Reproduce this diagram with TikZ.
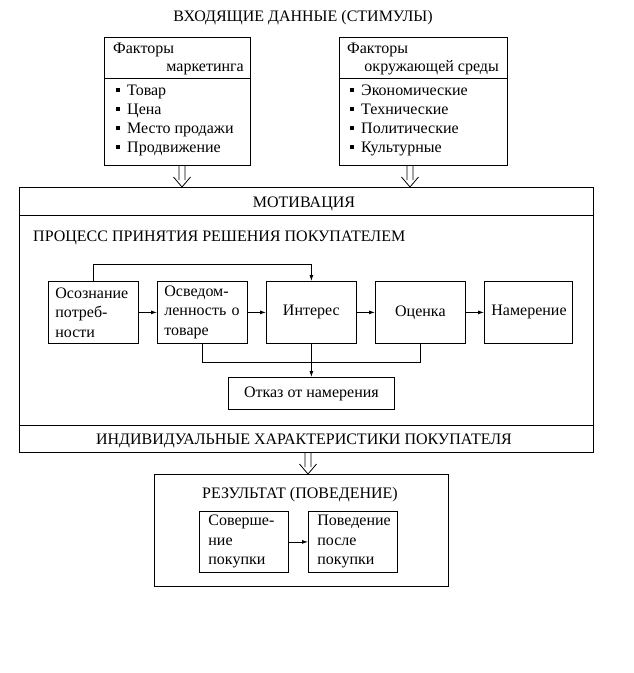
\documentclass[tikz,border=0pt]{standalone}
\usepackage{fontspec}
\setmainfont{Liberation Serif}
\usetikzlibrary{calc,arrows.meta}
\tikzset{
  bx/.style={draw, line width=0.8pt, inner sep=0pt, anchor=north west},
  arr/.style={-{Latex[length=6pt,width=4pt]}, line width=0.8pt},
  ln/.style={line width=0.8pt},
  txt/.style={inner sep=0pt},
  pbox/.style={bx, text width=76pt, inner xsep=7pt, minimum height=62pt},
  rbox/.style={bx, text width=71pt, inner xsep=9pt, minimum height=61pt, align=left},
}
\newcommand{\blt}{\rule[3pt]{4pt}{4pt}\hspace{7pt}}
\newcommand{\dblarr}[3]{\draw[ln] (#1-3,#2) -- (#1-3,#3-7) (#1+3,#2) -- (#1+3,#3-7) (#1-8.5,#3-10) -- (#1,#3) -- (#1+8.5,#3-10);}
\begin{document}
\begin{tikzpicture}[x=1pt,y=-1pt,font=\fontsize{16}{19.5}\selectfont]
\useasboundingbox (0,0) rectangle (634,673);
\fill[white] (0,0) rectangle (634,673);

\node[txt,anchor=base] (title) at (303,21.5) {ВХОДЯЩИЕ ДАННЫЕ (СТИМУЛЫ)};

% marketing factors
\node[bx, minimum width=146pt, minimum height=41pt] (mh) at (104,37) {};
\node[bx, minimum width=146pt, minimum height=87pt] (ml) at (104,78) {};
\node[txt,anchor=base west] (mf) at (113,53) {Факторы};
\node[txt,anchor=base east] (mm) at (244,71.5) {маркетинга};
\foreach \t [count=\i] in {Товар,Цена,Место продажи,Продвижение}
  \node[txt,anchor=base west] (mi\i) at (116,76+19*\i) {\blt\t};

% environment factors
\node[bx, minimum width=168pt, minimum height=41pt] (eh) at (339,37) {};
\node[bx, minimum width=168pt, minimum height=87pt] (el) at (339,78) {};
\node[txt,anchor=base west] (ef) at (347,53) {Факторы};
\node[txt,anchor=base east] (em) at (499,71.5) {окружающей среды};
\foreach \t [count=\i] in {Экономические,Технические,Политические,Культурные}
  \node[txt,anchor=base west] (ei\i) at (350,76+19*\i) {\blt\t};

\dblarr{182}{165}{187}
\dblarr{410}{165}{187}

% big box
\node[bx, minimum width=574pt, minimum height=265pt] (big) at (19,187) {};
\draw[ln] ($(big.north west)+(0,28)$) -- ($(big.north east)+(0,28)$);
\draw[ln] ($(big.south west)+(0,-27)$) -- ($(big.south east)+(0,-27)$);
\node[txt,anchor=base] (mot) at (304,207.5) {МОТИВАЦИЯ};
\node[txt,anchor=base west] (proc) at (33,241.5) {ПРОЦЕСС ПРИНЯТИЯ РЕШЕНИЯ ПОКУПАТЕЛЕМ};
\node[txt,anchor=base] (ind) at (304,444.5) {ИНДИВИДУАЛЬНЫЕ ХАРАКТЕРИСТИКИ ПОКУПАТЕЛЯ};

% process boxes
\node[pbox, align=left] (b1) at (48,281) {Осознание\\потреб-\\ности};
\node[pbox, align=left] (b2) at (157,281) {Осведом-\\ленность о\\товаре};
\node[pbox, align=center] (b3) at (266,281) {Интерес};
\node[pbox, align=center] (b4) at (375,281) {Оценка};
\node[pbox, align=center, text width=74pt] (b5) at (484,281) {Намерение};
\node[bx, minimum width=166pt, minimum height=32pt] (otk) at (228,377) {Отказ от намерения};

\draw[arr] (b1) -- (b2);
\draw[arr] (b2) -- (b3);
\draw[arr] (b3) -- (b4);
\draw[arr] (b4) -- (b5);
\draw[arr] (b1.north) |- ($(b3.north)+(0,-17)$) -- (b3.north);
\draw[ln] (b2.south) -- ++(0,19) -| (b4.south);
\draw[arr] (b3.south) -- (b3.south |- otk.north);

\dblarr{308}{452}{474}

% result
\node[bx, minimum width=294pt, minimum height=112pt] (res) at (154,474) {};
\node[txt,anchor=base] (rest) at (300,498.5) {РЕЗУЛЬТАТ (ПОВЕДЕНИЕ)};
\node[rbox] (s1) at (199,511) {Соверше-\\ние\\покупки};
\node[rbox] (s2) at (308,511) {Поведение\\после\\покупки};
\draw[arr] (s1) -- (s2);
\end{tikzpicture}
\end{document}
